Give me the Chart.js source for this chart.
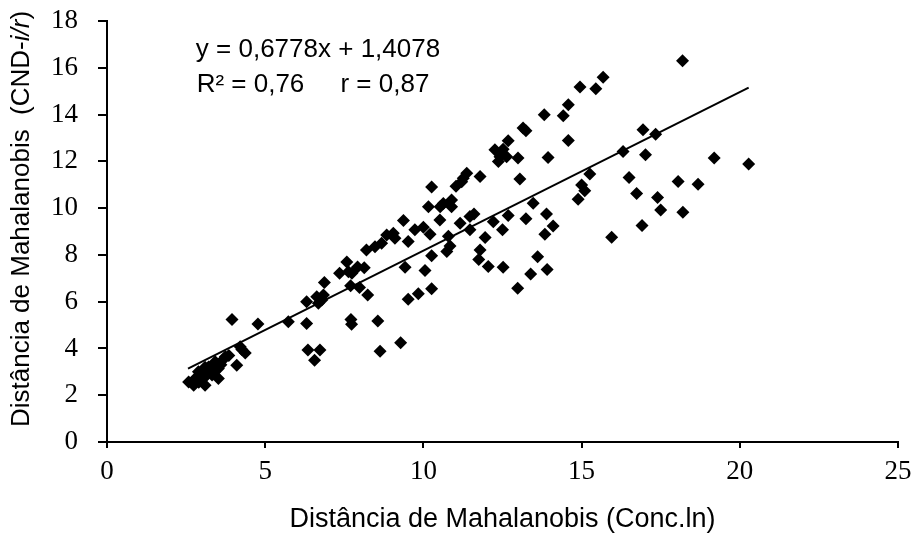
<!DOCTYPE html>
<html>
<head>
<meta charset="utf-8">
<script src="https://cdn.jsdelivr.net/npm/chart.js"></script>
<style>
  html, body { margin: 0; padding: 0; background: #fff; }
  #wrap { width: 915px; height: 536px; }
</style>
</head>
<body>
<div id="wrap"><canvas id="scatter-chart" width="915" height="536"></canvas></div>
<script>
// Distância de Mahalanobis: Conc.ln (x) vs CND-ilr (y)
var xValues = [
  2.58, 2.74, 2.9, 3.1, 3.05, 2.79, 2.89, 3.0, 3.21, 3.15, 3.32, 3.42, 3.52, 3.52, 3.6, 3.74, 3.3, 3.1, 2.95, 3.4, 3.65, 3.85,
  3.95, 4.77, 5.73, 4.21, 4.37, 4.1, 4.26,
  6.31, 6.31, 6.35, 6.73, 6.56, 6.63, 6.79, 6.84, 6.68, 6.87,
  7.71, 7.73, 7.35, 7.58, 7.63, 7.74, 7.92, 8.13, 7.7, 7.98, 8.24, 8.2, 8.47, 8.56, 8.63, 8.68,
  8.84, 9.05, 9.1, 9.28, 9.37, 9.42, 9.52, 9.52, 9.73, 9.84, 10.0, 10.05,
  10.21, 10.26, 10.26, 10.16, 10.26, 10.52, 10.63, 10.53, 10.79, 10.84, 10.74, 10.89, 10.89, 11.03,
  11.16, 11.21, 11.26, 11.37, 11.47, 11.47, 11.6, 11.75, 11.79, 11.79, 11.95,
  12.05, 12.21, 12.26, 12.42, 12.37, 12.5, 12.52, 12.52, 12.63, 12.68, 12.68, 12.98, 12.99,
  13.05, 13.15, 13.24, 13.24, 13.39, 13.47, 13.61, 13.84, 13.82, 13.89, 13.91, 13.94, 14.1,
  14.42, 14.58, 14.58, 14.89, 14.95, 15.0, 15.1, 15.26, 15.45, 15.68, 15.95,
  16.31, 16.5, 16.74, 16.91, 16.94, 17.02, 17.34, 17.4, 17.5, 18.05, 18.19, 18.2, 18.68, 19.19, 20.28
];
var yValues = [
  2.57, 2.43, 2.55, 2.43, 2.71, 2.71, 3.0, 2.85, 3.21, 2.95, 2.86, 3.43, 2.71, 3.14, 3.3, 3.64, 3.1, 3.2, 2.65, 3.0, 3.5, 3.7,
  5.24, 5.04, 5.14, 4.07, 3.81, 3.28, 3.95,
  5.07, 6.0, 3.93, 3.93, 3.5, 6.21, 6.07, 6.28, 5.93, 6.82,
  5.24, 5.03, 7.21, 7.7, 7.28, 7.21, 7.48, 7.45, 6.68, 6.61, 6.28, 8.21, 8.35, 5.17, 3.88, 8.5,
  8.85, 8.92, 8.71, 4.24, 9.47, 7.47, 8.57, 6.1, 9.07, 6.34, 9.18, 7.33,
  8.88, 6.55, 7.96, 10.06, 10.9, 9.49, 10.2, 10.06, 8.8, 8.38, 8.14, 10.06, 10.35, 10.93,
  9.35, 11.13, 11.28, 11.49, 9.07, 9.64, 9.75, 7.8, 8.21, 11.35, 8.74,
  7.5, 9.42, 12.49, 12.2, 11.99, 9.07, 12.52, 7.47, 12.2, 12.88, 9.68, 6.57, 12.14,
  11.25, 13.42, 13.31, 9.55, 7.18, 10.21, 7.92, 8.88, 13.99, 9.75, 7.38, 12.16, 9.23,
  13.95, 14.42, 12.89, 10.38, 15.18, 10.99, 10.74, 11.46, 15.1, 15.6, 8.75,
  12.42, 11.31, 10.63, 9.26, 13.35, 12.28, 13.16, 10.45, 9.92, 11.14, 16.3, 9.82, 11.02, 12.14, 11.89
];

// linha de tendência (extremos)
var trendX = [2.56, 20.28];
var trendY = [3.14, 15.15];

var equationText = "y = 0,6778x + 1,4078";
var statsText = "R² = 0,76     r = 0,87";

var xTicks = [0, 5, 10, 15, 20, 25];
var yTicks = [0, 2, 4, 6, 8, 10, 12, 14, 16, 18];

var points = [];
for (var i = 0; i < xValues.length; i++) {
    points.push({ x: xValues[i], y: yValues[i] });
}
var trendPoints = [];
for (var j = 0; j < trendX.length; j++) {
    trendPoints.push({ x: trendX[j], y: trendY[j] });
}

// textos: equação e título do eixo y (com "i/r" em itálico)
var textPlugin = {
    id: 'textPlugin',
    afterDraw: function(chart) {
        var ctx = chart.ctx;
        ctx.save();
        ctx.fillStyle = '#000';
        ctx.font = '26px "Liberation Sans", Arial, sans-serif';
        ctx.textAlign = 'center';
        ctx.textBaseline = 'middle';
        ctx.fillText(equationText, 318, 50);
        ctx.fillText(statsText, 313, 85);

        // título do eixo y
        var parts = [
            { t: 'Distância de Mahalanobis  (CND-', f: '26px "Liberation Sans", Arial, sans-serif' },
            { t: 'i/r', f: 'italic 26px "Liberation Sans", Arial, sans-serif' },
            { t: ')', f: '26px "Liberation Sans", Arial, sans-serif' }
        ];
        var total = 0;
        parts.forEach(function(p) { ctx.font = p.f; p.w = ctx.measureText(p.t).width; total += p.w; });
        ctx.translate(22, 219);
        ctx.rotate(-Math.PI / 2);
        ctx.textAlign = 'left';
        var pos = -total / 2;
        parts.forEach(function(p) {
            ctx.font = p.f;
            ctx.fillText(p.t, pos, 0);
            pos += p.w;
        });
        ctx.restore();
    }
};

var ctx = document.getElementById("scatter-chart").getContext('2d');
var myChart = new Chart(ctx, {
    type: 'scatter',
    data: {
        datasets: [
            {
                label: 'Amostras',
                data: points,
                pointStyle: 'rectRot',
                pointRadius: 6.5,
                pointHoverRadius: 6.5,
                backgroundColor: '#000',
                borderColor: '#000',
                borderWidth: 0
            },
            {
                label: 'Tendência',
                type: 'line',
                data: trendPoints,
                borderColor: '#000',
                borderWidth: 2,
                pointRadius: 0,
                fill: false
            }
        ]
    },
    options: {
        responsive: false,
        animation: false,
        events: [],
        layout: {
            padding: { top: 21, right: 17, left: 0, bottom: 0 }
        },
        plugins: {
            legend: { display: false },
            tooltip: { enabled: false }
        },
        scales: {
            x: {
                type: 'linear',
                min: 0,
                max: 25,
                afterBuildTicks: function(scale) {
                    scale.ticks = xTicks.map(function(v) { return { value: v }; });
                },
                afterFit: function(scale) {
                    scale.height = 94;
                    scale.paddingLeft = 0;
                    scale.paddingRight = 0;
                },
                ticks: {
                    color: '#000',
                    padding: 8,
                    maxRotation: 0,
                    font: { family: '"Liberation Serif", "Times New Roman", serif', size: 27 }
                },
                grid: {
                    drawOnChartArea: false,
                    drawTicks: true,
                    tickLength: 6,
                    color: '#000',
                    lineWidth: 2
                },
                border: { display: true, color: '#000', width: 2 },
                title: {
                    display: true,
                    text: 'Distância de Mahalanobis (Conc.ln)',
                    color: '#000',
                    padding: { top: 4, bottom: 0 },
                    font: { family: '"Liberation Sans", Arial, sans-serif', size: 27 }
                }
            },
            y: {
                type: 'linear',
                min: 0,
                max: 18,
                afterBuildTicks: function(scale) {
                    scale.ticks = yTicks.map(function(v) { return { value: v }; });
                },
                afterFit: function(scale) {
                    scale.width = 107;
                    scale.paddingTop = 0;
                    scale.paddingBottom = 0;
                },
                ticks: {
                    color: '#000',
                    padding: 20,
                    font: { family: '"Liberation Serif", "Times New Roman", serif', size: 27 }
                },
                grid: {
                    drawOnChartArea: false,
                    drawTicks: true,
                    tickLength: 9,
                    color: '#000',
                    lineWidth: 2
                },
                border: { display: true, color: '#000', width: 2 }
            }
        }
    },
    plugins: [textPlugin]
});
</script>
</body>
</html>
